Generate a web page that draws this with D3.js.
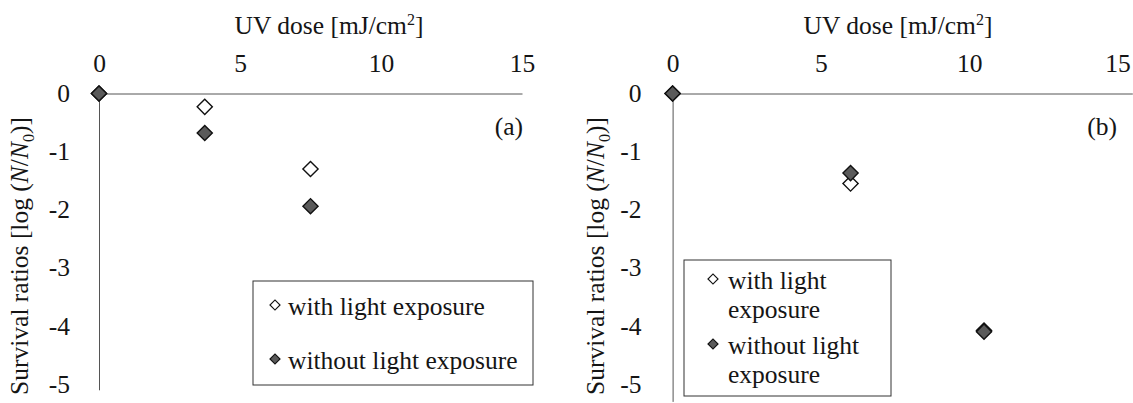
<!DOCTYPE html>
<html>
<head>
<meta charset="utf-8">
<script src="https://cdn.jsdelivr.net/npm/d3@7"></script>
<style>
  body { margin: 0; background: #fff; }
  text { font-family: 'Liberation Serif', 'Times New Roman', Times, 'DejaVu Serif', serif; fill: #151515; }
</style>
</head>
<body>
<svg id="chart" width="1133" height="403"></svg>
<script>
// panel (a)
var doseA = [0, 3.75, 7.5];
var withLightA = [0, -0.23, -1.30];
var withoutLightA = [0, -0.68, -1.94];
// panel (b)
var doseB = [0, 6, 10.5];
var withLightB = [0, -1.55, -4.08];
var withoutLightB = [0, -1.37, -4.1];

var xTicks = [0, 5, 10, 15];
var yTicks = [0, -1, -2, -3, -4, -5];

var svg = d3.select("#chart");
var fontSize = 25.5;
var serif = "'Liberation Serif', 'Times New Roman', Times, 'DejaVu Serif', serif";

function diamond(size) {
  return d3.symbol().type(d3.symbolSquare).size(size)();
}

function panel(opt) {
  var x = d3.scaleLinear().domain(opt.xDomain).range(opt.xRange);
  var y = d3.scaleLinear().domain(opt.yDomain).range(opt.yRange);
  var g = svg.append("g");

  // axes (no tick marks, Excel style)
  var ax = g.append("g")
    .attr("transform", "translate(0," + y(0) + ")")
    .call(d3.axisTop(x).tickValues(xTicks).tickSize(0).tickPadding(22)
      .tickFormat(function (d) { return String(d); }));
  var ay = g.append("g")
    .attr("transform", "translate(" + x(0) + ",0)")
    .call(d3.axisLeft(y).tickValues(yTicks).tickSize(0).tickPadding(opt.yPad)
      .tickFormat(function (d) { return String(d); }));
  [ax, ay].forEach(function (a) {
    a.attr("font-family", null).attr("font-size", null);
    a.select(".domain").attr("stroke", "#555").attr("stroke-width", 1);
    a.selectAll("text").style("font-size", fontSize + "px")
      .style("font-family", serif).attr("fill", "#151515");
  });

  // x title
  var xt = g.append("text")
    .attr("x", opt.xTitleX).attr("y", 34)
    .attr("text-anchor", "middle")
    .style("font-size", fontSize + "px");
  xt.append("tspan").text("UV dose [mJ/cm");
  xt.append("tspan").attr("dy", -9).style("font-size", "16px").text("2");
  xt.append("tspan").attr("dy", 9).text("]");

  // y title
  var yt = g.append("text")
    .attr("transform", "translate(" + opt.yTitleX + ",256) rotate(-90)")
    .attr("text-anchor", "middle")
    .attr("dy", "0.35em")
    .style("font-size", fontSize + "px");
  yt.append("tspan").text("Survival ratios [log (");
  yt.append("tspan").style("font-style", "italic").text("N");
  yt.append("tspan").text("/");
  yt.append("tspan").style("font-style", "italic").text("N");
  yt.append("tspan").attr("dy", 6).style("font-size", "16px").text("0");
  yt.append("tspan").attr("dy", -6).text(")]");

  // panel letter
  g.append("text")
    .attr("x", opt.letterX).attr("y", 135)
    .attr("text-anchor", "end")
    .style("font-size", fontSize + "px")
    .text(opt.letter);

  // points: open first, filled on top
  var series = [
    { vals: opt.withLight, fill: "#fff" },
    { vals: opt.withoutLight, fill: "#5a5a5a" }
  ];
  series.forEach(function (s) {
    g.append("g").selectAll("path")
      .data(opt.dose.map(function (d, i) { return { x: d, y: s.vals[i] }; }))
      .enter().append("path")
      .attr("d", diamond(115))
      .attr("transform", function (d) {
        return "translate(" + x(d.x) + "," + y(d.y) + ") rotate(45)";
      })
      .attr("fill", s.fill)
      .attr("stroke", "#111")
      .attr("stroke-width", 1.4);
  });

  // legend
  var lg = g.append("g");
  lg.append("rect")
    .attr("x", opt.legend.x).attr("y", opt.legend.y)
    .attr("width", opt.legend.w).attr("height", opt.legend.h)
    .attr("fill", "#fff").attr("stroke", "#333").attr("stroke-width", 1);
  opt.legend.rows.forEach(function (r, i) {
    lg.append("path")
      .attr("d", diamond(50))
      .attr("transform", "translate(" + opt.legend.mx + "," + (r.lines[0].y - 10) + ") rotate(45)")
      .attr("fill", series[i].fill)
      .attr("stroke", "#111")
      .attr("stroke-width", 1.2);
    r.lines.forEach(function (l) {
      lg.append("text")
        .attr("x", opt.legend.tx).attr("y", l.y)
        .style("font-size", fontSize + "px")
        .text(l.t);
    });
  });
}

panel({
  xDomain: [0, 15], xRange: [99, 522],
  yDomain: [0, -5.1], yRange: [93.5, 389.8],
  yPad: 29, xTitleX: 329, yTitleX: 19,
  letter: "(a)", letterX: 523,
  dose: doseA, withLight: withLightA, withoutLight: withoutLightA,
  legend: {
    x: 253, y: 281, w: 280, h: 104, mx: 275, tx: 288,
    rows: [
      { lines: [{ t: "with light exposure", y: 315 }] },
      { lines: [{ t: "without light exposure", y: 369 }] }
    ]
  }
});

panel({
  xDomain: [0, 15.5], xRange: [672.6, 1132.3],
  yDomain: [0, -5.3], yRange: [93.5, 401.4],
  yPad: 31, xTitleX: 898, yTitleX: 595,
  letter: "(b)", letterX: 1117,
  dose: doseB, withLight: withLightB, withoutLight: withoutLightB,
  legend: {
    x: 684, y: 260, w: 207, h: 136, mx: 713, tx: 728,
    rows: [
      { lines: [{ t: "with light", y: 289 }, { t: "exposure", y: 318 }] },
      { lines: [{ t: "without light", y: 354 }, { t: "exposure", y: 383 }] }
    ]
  }
});
</script>
</body>
</html>
